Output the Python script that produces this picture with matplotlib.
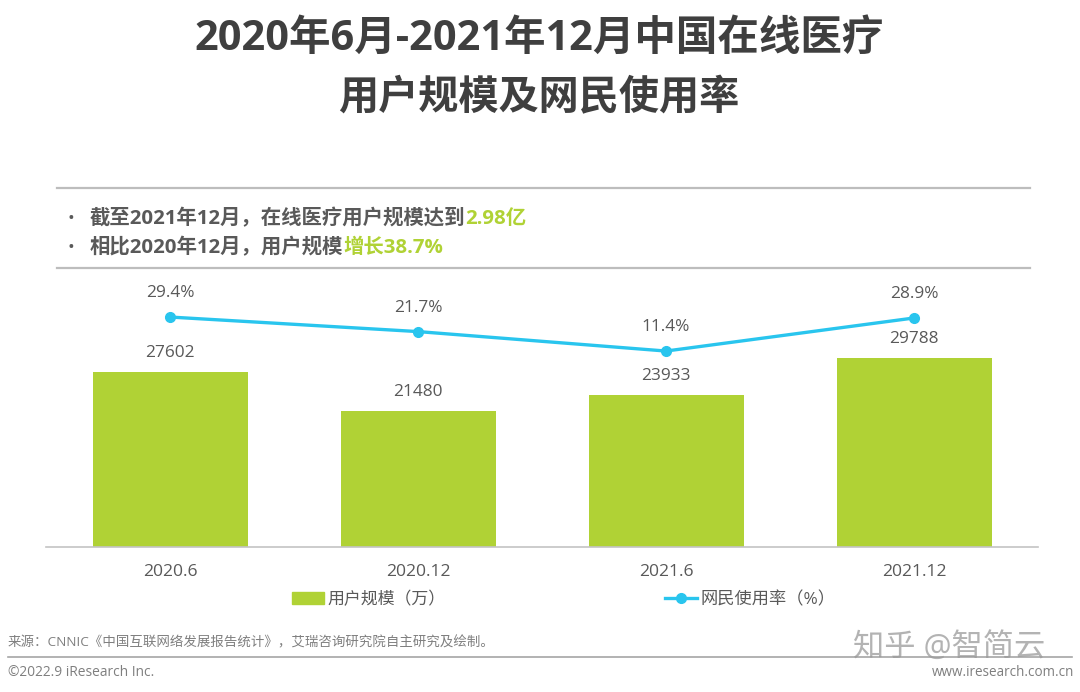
import matplotlib as mpl
import matplotlib.pyplot as plt
from matplotlib.lines import Line2D
from matplotlib.patches import Patch

mpl.use("Agg")
plt.rcParams["font.family"] = ["Open Sans", "Noto Sans CJK SC", "DejaVu Sans"]

periods = ["2020.6", "2020.12", "2021.6", "2021.12"]
users = [27602, 21480, 23933, 29788]
rates = [29.4, 21.7, 11.4, 28.9]
rate_labels = ["29.4%", "21.7%", "11.4%", "28.9%"]

GREEN = "#b0d235"
BLUE = "#29c5ee"
GREY = "#595959"
W, H = 1080, 692


def fx(px):
    return px / W


def fy(px):
    return 1 - px / H


def rule(fig, x0, x1, y, color="#bdbdbd", lw=1.6):
    fig.add_artist(Line2D([fx(x0), fx(x1)], [fy(y), fy(y)], color=color, lw=lw))


def segments(fig, x, y, parts, size):
    # draw coloured runs one after the other on the same baseline
    renderer = fig.canvas.get_renderer()
    for s, color in parts:
        t = fig.text(fx(x), fy(y), s, color=color, fontsize=size, fontweight="bold", va="center")
        x = t.get_window_extent(renderer).x1


fig = plt.figure(figsize=(W / 100, H / 100), dpi=100, facecolor="white")

fig.text(fx(539), fy(39), "2020年6月-2021年12月中国在线医疗", ha="center", va="center",
         fontsize=29.9, fontweight="bold", color="#3f3f3f")
fig.text(fx(539), fy(99), "用户规模及网民使用率", ha="center", va="center",
         fontsize=28.9, fontweight="bold", color="#3f3f3f")

rule(fig, 57, 1030, 188)
rule(fig, 57, 1030, 268)
fig.text(fx(71), fy(219), "•", fontsize=13, color=GREY, ha="center", va="center")
fig.text(fx(71), fy(248), "•", fontsize=13, color=GREY, ha="center", va="center")
segments(fig, 90, 219, [("截至2021年12月，在线医疗用户规模达到", GREY), ("2.98亿", GREEN)], 14.7)
segments(fig, 90, 248, [("相比2020年12月，用户规模", GREY), ("增长38.7%", GREEN)], 14.7)

ax = fig.add_axes([fx(46), fy(547), fx(992), (547 - 280) / H])
xs = range(len(periods))
ax.bar(xs, users, width=0.625, color=GREEN, zorder=2)
ax.set_xlim(-0.5, 3.5)
ax.set_ylim(0, 42080)
ax.set_yticks([])
ax.set_xticks(list(xs), periods)
ax.tick_params(axis="x", length=0, pad=12, labelsize=12.6, labelcolor=GREY)
for side in ("top", "left", "right"):
    ax.spines[side].set_visible(False)
ax.spines["bottom"].set_color("#c4c4c4")
ax.spines["bottom"].set_linewidth(1.2)
ax.patch.set_alpha(0)
for i, v in enumerate(users):
    ax.annotate(str(v), (i, v), xytext=(0, 7.8), textcoords="offset points", ha="center",
                va="bottom", fontsize=12.4, color=GREY)

ax2 = ax.twinx()
ax2.plot(xs, rates, color=BLUE, lw=2.4, marker="o", ms=7, zorder=3)
ax2.set_ylim(-92.3, 49)
ax2.axis("off")
for i, v in enumerate(rates):
    ax2.annotate(rate_labels[i], (i, v), xytext=(0, 11.5), textcoords="offset points", ha="center",
                 va="bottom", fontsize=12.4, color=GREY)

fig.legend(handles=[Patch(color=GREEN, label="用户规模（万）")], loc="center left",
           bbox_to_anchor=(fx(277), fy(600)), frameon=False, fontsize=12.2, labelcolor=GREY,
           handlelength=1.9, handleheight=0.7, handletextpad=0.2)
fig.legend(handles=[Line2D([], [], color=BLUE, lw=2.4, marker="o", ms=7, label="网民使用率（%）")],
           loc="center left", bbox_to_anchor=(fx(649), fy(600)), frameon=False, fontsize=12.4,
           labelcolor=GREY, handlelength=1.9, handletextpad=0.2)

fig.text(fx(8), fy(643), "来源：CNNIC《中国互联网络发展报告统计》，艾瑞咨询研究院自主研究及绘制。",
         fontsize=9.7, color="#7f7f7f", va="center")
rule(fig, 8, 1072, 657, color="#a6a6a6", lw=1.2)
fig.text(fx(8), fy(673), "©2022.9 iResearch Inc.", fontsize=9.9, color="#7f7f7f", va="center")
fig.text(fx(1074), fy(673), "www.iresearch.com.cn", fontsize=9.75, color="#7f7f7f", va="center", ha="right")
fig.text(fx(853), fy(648), "知乎 @智简云", fontsize=22.5, color="#9a9a9a", alpha=0.75, va="center")

fig.savefig("out.png", dpi=100)
